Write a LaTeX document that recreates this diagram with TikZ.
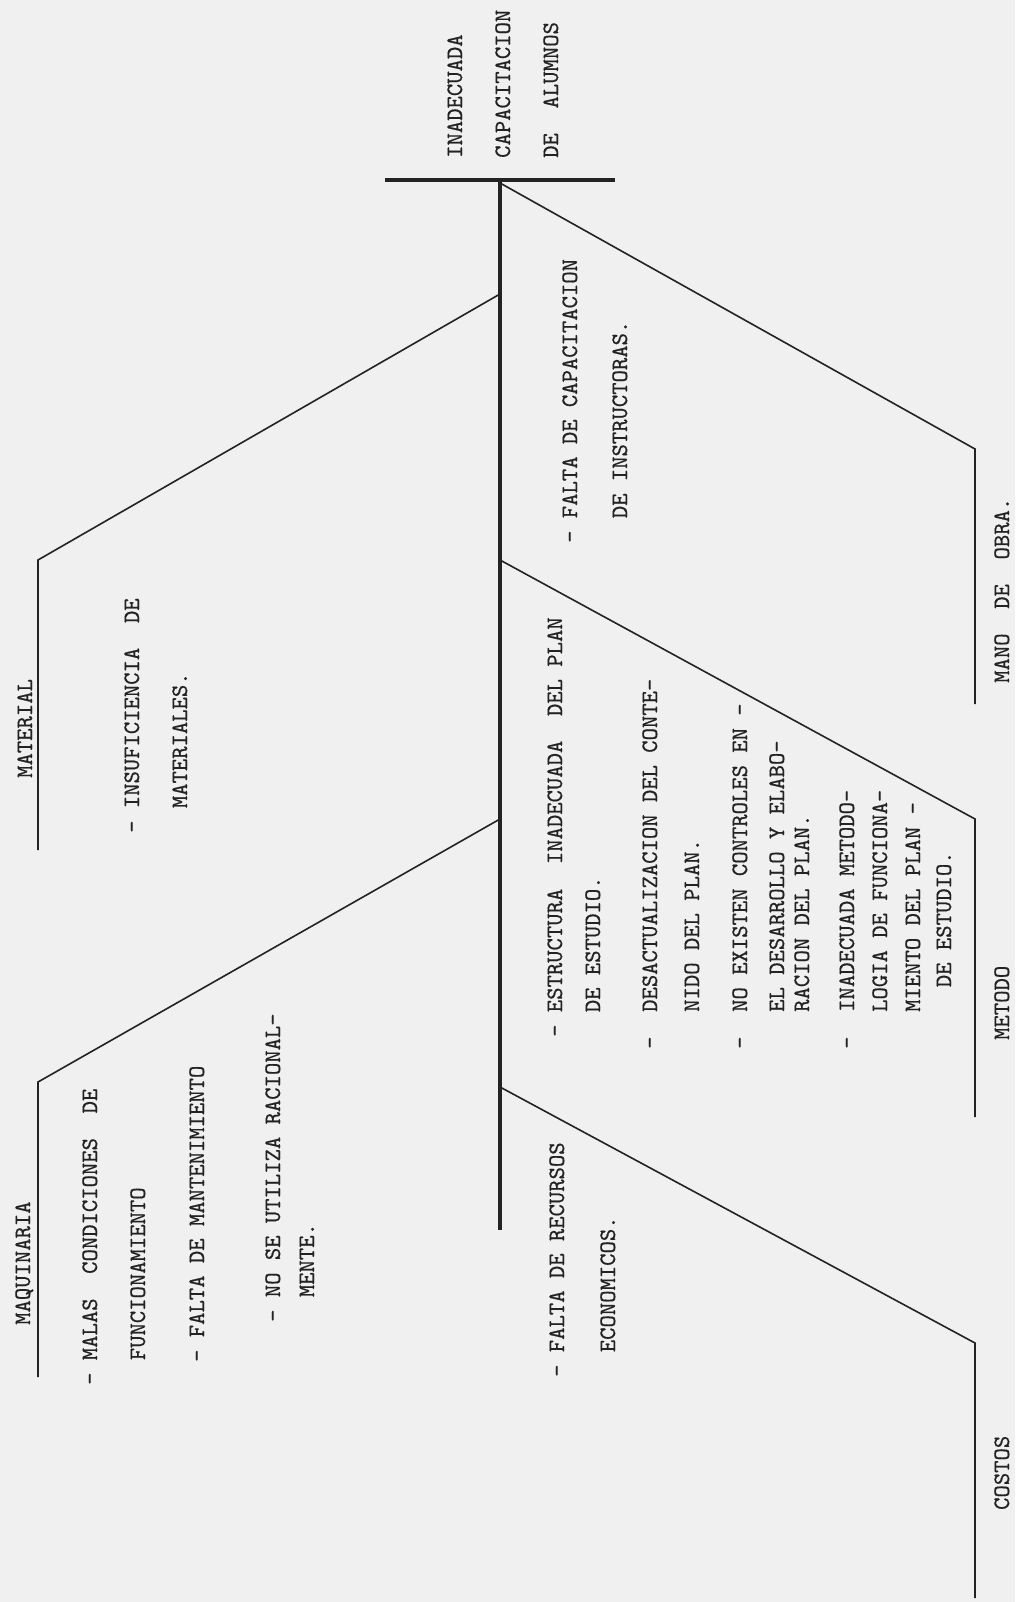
\documentclass[tikz,border=0pt]{standalone}
\usepackage{fontspec}
\usepackage{tikz}
\usetikzlibrary{positioning}

\newfontfamily\causefamily[FakeBold=0.6]{lmmono10-regular.otf}
\definecolor{paper}{RGB}{240,240,240}
\definecolor{ink}{RGB}{35,35,35}
\newcommand{\causefont}{\causefamily\fontsize{23.5}{48}\selectfont}

\begin{document}
\begin{tikzpicture}[
    x=1pt, y=-1pt,
    causetext/.style={rotate=90, anchor=base west, inner sep=0pt, align=left, font=\causefont, text=ink},
    headline/.style={draw=ink, line width=3.6pt},
    spineline/.style={draw=ink, line width=3.2pt},
    boneline/.style={draw=ink, line width=1.6pt}
]
\fill[paper] (0,0) rectangle (1015,1602);
\useasboundingbox (0,0) rectangle (1015,1602);

% --- Effect (head) ---
\node[causetext] (effect) at (558,158) {INADECUADA\\CAPACITACION\\DE\ \ ALUMNOS};

\coordinate (headleft)    at (385,180);
\coordinate (headright)   at (615,180);
\coordinate (spinetop)    at (500,180);
\coordinate (spinebottom) at (500,1230);

% --- Bone points ---
\coordinate (manojoin)       at (500,183);
\coordinate (manobend)       at (975,449);
\coordinate (manoend)        at (975,704);
\coordinate (materialjoin)   at (500,294);
\coordinate (materialbend)   at (38,560);
\coordinate (materialend)    at (38,850);
\coordinate (metodojoin)     at (500,560);
\coordinate (metodobend)     at (975,819);
\coordinate (metodoend)      at (975,1117);
\coordinate (maquinariajoin) at (500,819);
\coordinate (maquinariabend) at (38,1082);
\coordinate (maquinariaend)  at (38,1377);
\coordinate (costosjoin)     at (500,1087);
\coordinate (costosbend)     at (975,1343);
\coordinate (costosend)      at (975,1598);

% --- Spine and bones ---
\draw[headline]  (headleft) -- (headright);
\draw[spineline] (spinetop) -- (spinebottom);
\draw[boneline]  (manojoin) -- (manobend) -- (manoend);
\draw[boneline]  (materialjoin) -- (materialbend) -- (materialend);
\draw[boneline]  (metodojoin) -- (metodobend) -- (metodoend);
\draw[boneline]  (maquinariajoin) -- (maquinariabend) -- (maquinariaend);
\draw[boneline]  (costosjoin) -- (costosbend) -- (costosend);

% --- Mano de obra ---
\node[causetext] (manolabel) at (1009,683) {MANO\ \ DE\ \ OBRA.};
\node[causetext] (manoitem) at (627,543) {-\ FALTA DE CAPACITACION\\[2pt]\hphantom{-\ }DE INSTRUCTORAS.};

% --- Material ---
\node[causetext] (materiallabel) at (32,778) {MATERIAL};
\node[causetext] (materialitem) at (187,833) {-\ INSUFICIENCIA\ \ DE\\\hphantom{-\ }MATERIALES.};

% --- Maquinaria ---
\node[causetext] (maquinarialabel) at (30,1325) {MAQUINARIA};
\node[causetext] (maquinariaitemA) at (145,1385) {-\ MALAS\ \ CONDICIONES\ \ DE\\\hphantom{-\ }FUNCIONAMIENTO};
\node[causetext] (maquinariaitemB) at (204,1362) {-\ FALTA DE MANTENIMIENTO};
\node[causetext] (maquinariaitemC) at (314,1322) {-\ NO SE UTILIZA RACIONAL-\\[-14pt]\hphantom{-\ }MENTE.};

% --- Metodo ---
\node[causetext] (metodolabel) at (1009,1040) {METODO};
\node[causetext] (metodoitemA) at (600,1037) {-\ ESTRUCTURA\ \ INADECUADA\ \ DEL PLAN\\[-10pt]\hphantom{-\ }DE ESTUDIO.};
\node[causetext] (metodoitemB) at (699,1049) {-\ \ DESACTUALIZACION DEL CONTE-\\[-6pt]\hphantom{-\ \ }NIDO DEL PLAN.};
\node[causetext] (metodoitemC) at (809,1049) {-\ \ NO EXISTEN CONTROLES EN -\\[-11pt]\hphantom{-\ \ }EL DESARROLLO Y ELABO-\\[-23pt]\hphantom{-\ \ }RACION DEL PLAN.};
\node[causetext] (metodoitemD) at (951,1049) {-\ \ INADECUADA METODO-\\[-15pt]\hphantom{-\ \ }LOGIA DE FUNCIONA-\\[-15pt]\hphantom{-\ \ }MIENTO DEL PLAN -\\[-17pt]\hphantom{-\ \ \ \ }DE ESTUDIO.};

% --- Costos ---
\node[causetext] (costoslabel) at (1009,1510) {COSTOS};
\node[causetext] (costositem) at (615,1377) {-\ FALTA DE RECURSOS\\[3pt]\hphantom{-\ }ECONOMICOS.};

\end{tikzpicture}
\end{document}
